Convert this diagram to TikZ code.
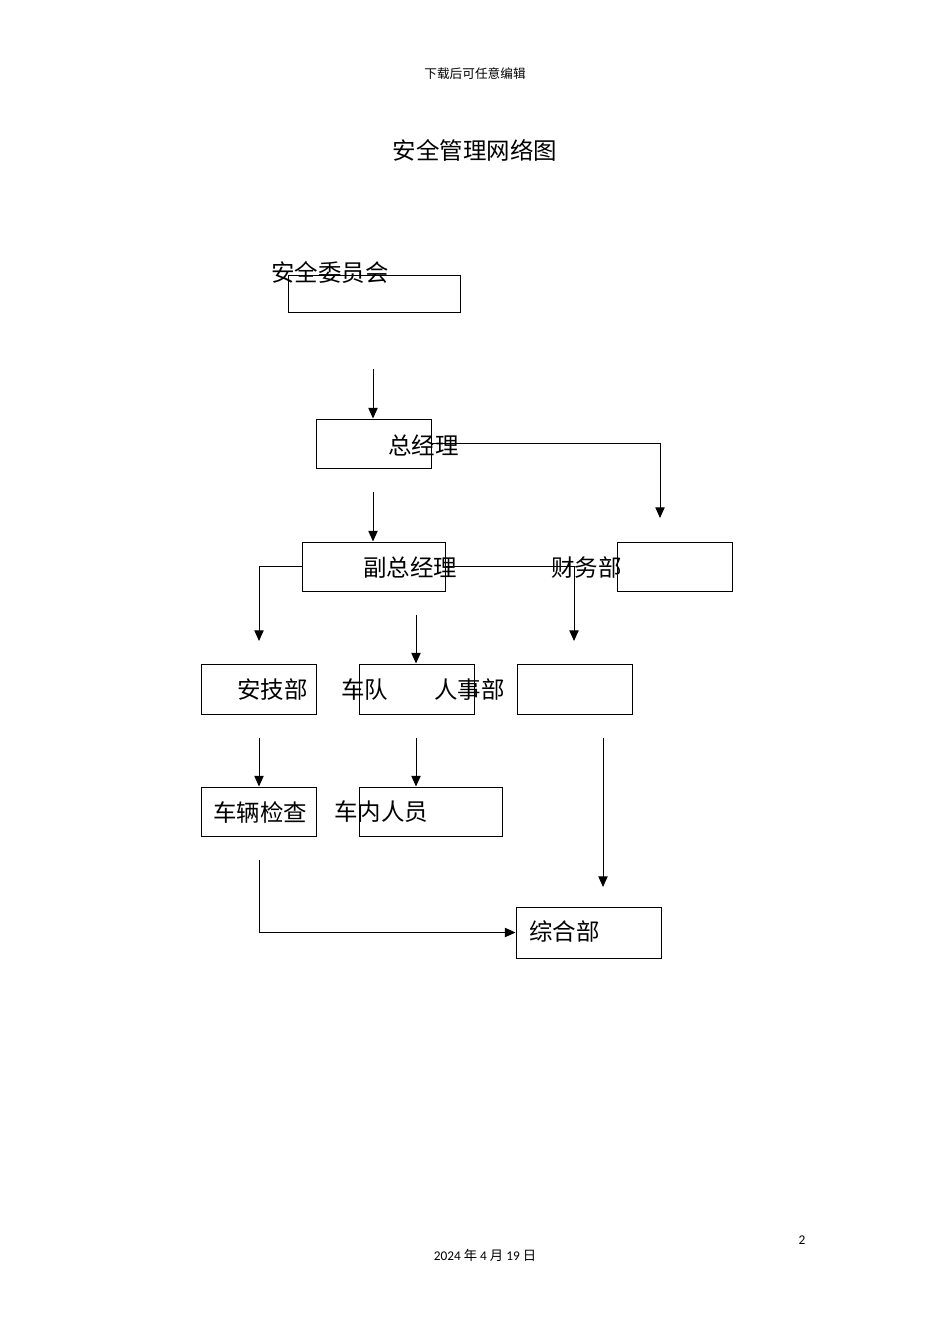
\documentclass[tikz,border=0pt]{standalone}
\usepackage{fontspec}
\setmainfont{Carlito}
\newfontfamily\cjk{Noto Sans CJK SC}
\usetikzlibrary{arrows.meta}

\begin{document}
\begin{tikzpicture}[x=0.75pt,y=-0.75pt,
	box/.style={draw, line width=0.75pt, inner sep=0pt},
	lbl/.style={font=\cjk\fontsize{17.6}{17.6}\selectfont, inner sep=0pt, anchor=west},
	arr/.style={-{Triangle[width=7pt,length=8pt]}, line width=0.75pt}]
			%%%%% START %%%%%
			
			\fill[white] (0,0) rectangle (950,1344);
			\useasboundingbox (0,0) rectangle (950,1344);
			
			\node[font=\cjk\fontsize{9.5}{9.5}\selectfont, inner sep=0pt] (kop) at (475,74) {下载后可任意编辑};
			\node[font=\cjk\fontsize{17.6}{17.6}\selectfont, inner sep=0pt] (titel) at (475,150) {安全管理网络图};
			
			% boxes
			\node[box, minimum width=129pt, minimum height=27.75pt] (wyh) at (374,294.5) {};
			\node[box, minimum width=86.25pt, minimum height=36.75pt] (zjl) at (373.5,443.5) {};
			\node[box, minimum width=107.25pt, minimum height=36.75pt] (fzjl) at (373.5,566.5) {};
			\node[box, minimum width=86.25pt, minimum height=36.75pt] (cwb) at (674.5,566.5) {};
			\node[box, minimum width=86.25pt, minimum height=37.5pt] (ajb) at (258.5,689) {};
			\node[box, minimum width=86.25pt, minimum height=37.5pt] (cd) at (416.5,689) {};
			\node[box, minimum width=86.25pt, minimum height=37.5pt] (rsb) at (574.5,689) {};
			\node[box, minimum width=86.25pt, minimum height=36.75pt] (cljc) at (258.5,811.5) {};
			\node[box, minimum width=107.25pt, minimum height=36.75pt] (cnry) at (430.5,811.5) {};
			\node[box, minimum width=108.75pt, minimum height=38.25pt] (zhb) at (588.5,932.5) {};
			
			% labels
			\node[lbl] (t-wyh) at (271,273) {安全委员会};
			\node[lbl] (t-zjl) at (388,445) {总经理};
			\node[lbl] (t-fzjl) at (363,568) {副总经理};
			\node[lbl] (t-cwb) at (551,568) {财务部};
			\node[lbl] (t-ajb) at (237,690) {安技部};
			\node[lbl] (t-cd) at (341,690) {车队};
			\node[lbl] (t-rsb) at (434,690) {人事部};
			\node[lbl] (t-cljc) at (213,812) {车辆检查};
			\node[lbl] (t-cnry) at (334,812) {车内人员};
			\node[lbl] (t-zhb) at (529,931) {综合部};
			
			% free ends
			\coordinate (s1) at (373,369);
			\coordinate (e1) at (660,518);
			\coordinate (s2) at (373,492);
			\coordinate (e2) at (259,641);
			\coordinate (e3) at (574,641);
			\coordinate (s3) at (416,615);
			\coordinate (s4) at (259,738);
			\coordinate (s5) at (416,738);
			\coordinate (s6) at (603,738);
			\coordinate (e6) at (603,887);
			\coordinate (s7) at (259,860);
			
			% connectors
			\draw[arr] (s1) -- (s1 |- zjl.north);
			\draw[arr] (zjl.east) -| (e1);
			\draw[arr] (s2) -- (s2 |- fzjl.north);
			\draw[arr] (fzjl.west) -| (e2);
			\draw[arr] (fzjl.east) -| (e3);
			\draw[arr] (s3) -- (s3 |- cd.north);
			\draw[arr] (s4) -- (s4 |- cljc.north);
			\draw[arr] (s5) -- (s5 |- cnry.north);
			\draw[arr] (s6) -- (e6);
			\draw[arr] (s7) |- (zhb.west);
			
			% footer
			\node[font=\fontsize{10}{10}\selectfont, inner sep=0pt] (seite) at (802,1240) {2};
			\node[font=\fontsize{10}{10}\selectfont, inner sep=0pt] (datum) at (485,1255) {2024 {\cjk 年} 4 {\cjk 月} 19 {\cjk 日}};
			
			%%%%% END %%%%%
\end{tikzpicture}
\end{document}
